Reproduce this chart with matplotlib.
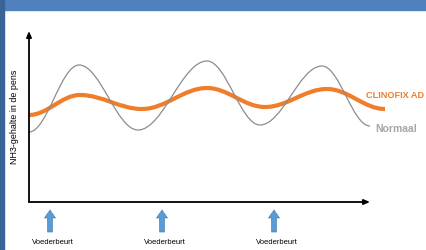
import matplotlib
matplotlib.use('Agg')
import matplotlib.pyplot as plt
from matplotlib.path import Path
from matplotlib.patches import PathPatch, Rectangle, FancyArrow

# curve extremes (time units, level units)
normaal_t = [0, 50, 109, 178, 231, 293, 341]
normaal_v = [70, 137, 72, 141, 77, 136, 76]
clinofix_t = [0, 51, 113, 178, 236, 298, 356]
clinofix_v = [87, 107, 93, 114, 95, 113, 93]
feed_t = [21, 133, 245]
feed_labels = ['Voederbeurt', 'Voederbeurt', 'Voederbeurt']
y_label = 'NH3-gehalte in de pens'

plt.rcParams['font.family'] = ['Liberation Sans Narrow', 'Liberation Sans', 'DejaVu Sans']

W, H = 427, 251
fig = plt.figure(figsize=(W / 100, H / 100), dpi=100)
fig.patch.set_facecolor('white')

# header bar and left strip
fig.patches.append(Rectangle((0, 1 - 11 / H), 1, 11 / H, transform=fig.transFigure,
                             color='#4F81BD', zorder=0))
fig.patches.append(Rectangle((0, 0), 4 / W, 1, transform=fig.transFigure,
                             color='#3A6398', zorder=1))

ax = fig.add_axes([29 / W, (H - 203) / H, 341 / W, 171 / H])
ax.set_xlim(0, 341)
ax.set_ylim(0, 171)
ax.axis('off')


def smooth_path(ts, vs, k=0.364):
    verts = [(ts[0], vs[0])]
    codes = [Path.MOVETO]
    for i in range(len(ts) - 1):
        d = ts[i + 1] - ts[i]
        verts += [(ts[i] + d * k, vs[i]), (ts[i + 1] - d * k, vs[i + 1]), (ts[i + 1], vs[i + 1])]
        codes += [Path.CURVE4] * 3
    return Path(verts, codes)


ax.add_patch(PathPatch(smooth_path(normaal_t, normaal_v), fill=False,
                       edgecolor='#8C8C8C', lw=0.9, clip_on=False, zorder=3))
ax.add_patch(PathPatch(smooth_path(clinofix_t, clinofix_v), fill=False,
                       edgecolor='#F07D2A', lw=3.0, clip_on=False, zorder=2,
                       capstyle='butt'))

# axes with arrows
arrow = dict(arrowstyle='-|>,head_length=0.35,head_width=0.15', color='black', lw=1.3,
             shrinkA=0, shrinkB=0)
ax.annotate('', xy=(0, 171), xytext=(0, 0), arrowprops=arrow, annotation_clip=False)
ax.annotate('', xy=(341, 0), xytext=(0, 0), arrowprops=arrow, annotation_clip=False)

ax.text(337, 108, 'CLINOFIX AD', color='#F07D2A', fontsize=6.6, fontweight='bold',
        ha='left', va='center', clip_on=False)
ax.text(346, 74, 'Normaal', color='#A6A6A6', fontsize=7.5, fontweight='bold',
        ha='left', va='center', clip_on=False)

for t, lab in zip(feed_t, feed_labels):
    ax.add_patch(FancyArrow(t, -30, 0, 22, width=5, head_width=11, head_length=8,
                            length_includes_head=True, facecolor='#5B9BD5',
                            edgecolor='#4A86C0', lw=0.5, clip_on=False))
    ax.text(t + 3, -40, lab, fontsize=5.5, ha='center', va='center', clip_on=False)

fig.text(15 / W, 1 - 117 / H, y_label, rotation=90, fontsize=6.4,
         ha='center', va='center')

fig.savefig('out.png', dpi=100)
